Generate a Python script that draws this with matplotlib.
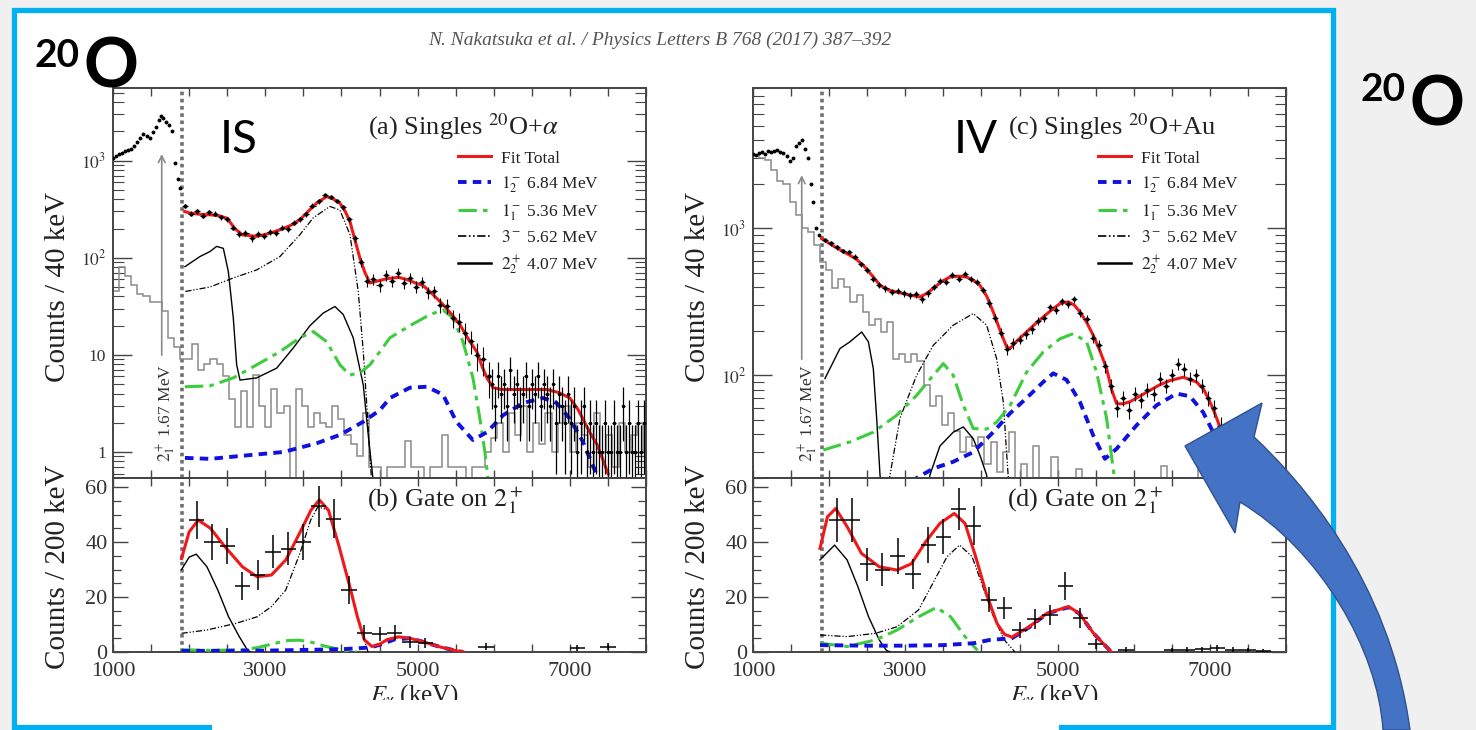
#!/usr/bin/env python3
"""
20O gamma spectra slide: singles on alpha / Au and gated spectra
"""
import matplotlib
matplotlib.use('Agg')
import matplotlib.pyplot as plt
import numpy as np
from matplotlib.lines import Line2D
from matplotlib.patches import Rectangle, PathPatch
from matplotlib.path import Path
from matplotlib.ticker import (FixedLocator, FixedFormatter, MultipleLocator,
                               LogLocator, NullFormatter)

W, H = 1476, 730

# ---------------- panel (a): singles 20O + alpha (counts / 40 keV)
a_pre_e = [1000, 1040, 1080, 1120, 1160, 1200, 1240, 1280, 1320, 1360, 1400, 1440,
           1480, 1520, 1560, 1600, 1630, 1660, 1700, 1730, 1770, 1810, 1850, 1880]
a_pre_y = [1070, 1110, 1160, 1210, 1250, 1290, 1330, 1420, 1540, 1700, 1860, 1800,
           1700, 1950, 2200, 2600, 2880, 2760, 2500, 2350, 2000, 950, 650, 520]
a_pts_y = [340, 285, 300, 270, 295, 285, 260, 250, 205, 175, 180, 160, 175, 168, 185,
           180, 205, 200, 230, 250, 280, 345, 380, 440, 420, 385, 330, 250, 160, 90,
           58, 60, 52, 66, 58, 70, 55, 62, 50, 56, 44, 45, 33, 32, 24, 22, 17, 14,
           10, 9, 6]
a_pts_err = [18, 17, 17, 16, 17, 17, 16, 16, 14, 13, 13, 13, 13, 13, 14, 13, 14, 14,
             15, 16, 17, 19, 19, 21, 20, 20, 18, 16, 13, 9.5, 7.6, 7.7, 7.2, 8.1,
             7.6, 8.4, 7.4, 7.9, 7.1, 7.5, 6.6, 6.7, 5.7, 5.7, 4.9, 4.7, 4.1, 3.7,
             3.2, 3, 2.4]
a_tail_y = [5, 3, 6, 4, 5, 3, 7, 4, 5, 3, 4, 6, 3, 5, 4, 6, 3, 5, 4, 3, 5, 2, 4, 3, 2,
            4, 2, 3, 1, 2, 3, 1, 2, 1, 2, 1, 1, 2, 1, 1, 2, 1, 1, 3, 1, 2, 1, 1, 2, 1, 2]
a_tail_err = [2.2, 1.7, 2.4, 2, 2.2, 1.7, 2.6, 2, 2.2, 1.7, 2, 2.4, 1.7, 2.2, 2, 2.4,
              1.7, 2.2, 2, 1.7, 2.2, 1.4, 2, 1.7, 1.4, 2, 1.4, 1.7, 0.9, 1.4, 1.7, 0.9,
              1.4, 0.9, 1.4, 0.9, 0.9, 1.4, 0.9, 0.9, 1.4, 0.9, 0.9, 1.7, 0.9, 1.4, 0.9,
              0.9, 1.4, 0.9, 1.4]
a_fit_e = [1940, 2000, 2150, 2280, 2400, 2500, 2600, 2700, 2887, 3050, 3193, 3330,
           3455, 3580, 3674, 3805, 3900, 3980, 4050, 4112, 4180, 4243, 4310, 4374,
           4450, 4600, 4750, 4850, 5000, 5071, 5200, 5334, 5450, 5557, 5680, 5780,
           5850, 5911, 5990, 6100, 6400, 6700, 6850, 7000, 7100, 7171, 7260, 7355,
           7430, 7500]
a_fit_y = [300, 290, 280, 277, 270, 255, 200, 172, 166, 178, 194, 215, 246, 310, 365,
           427, 400, 365, 300, 236, 150, 99, 70, 55, 57, 61, 63, 60, 54, 52, 42, 33,
           26, 20.4, 14, 10.7, 7.5, 5.8, 4.6, 4.4, 4.4, 4.4, 4.1, 3.6, 2.8, 2.2, 1.6,
           1.2, 0.85, 0.6]
a_m1b_e = [1945, 2274, 2799, 3237, 3674, 3980, 4287, 4505, 4637, 4900, 5120, 5334,
           5509, 5727, 5911, 6125, 6387, 6650, 6825, 7000, 7171, 7355, 7450]
a_m1b_y = [0.87, 0.85, 0.93, 1.0, 1.23, 1.5, 2.05, 2.7, 3.6, 4.6, 4.7, 3.9, 2.05,
           1.33, 1.6, 2.4, 3.2, 3.6, 3.2, 2.2, 1.28, 0.58, 0.4]
a_m1a_e = [1945, 2274, 2580, 2887, 3193, 3455, 3630, 3805, 3980, 4112, 4250, 4374,
           4505, 4637, 4900, 5162, 5334, 5465, 5596, 5727, 5819, 5884, 5924, 5960]
a_m1a_y = [4.7, 4.8, 5.8, 7.9, 10.8, 15, 17.4, 13.7, 7.9, 6.2, 6.6, 7.9, 10.8, 15,
           20, 26, 29, 24, 13.7, 5.8, 2.2, 1.0, 0.54, 0.3]
a_m3_e = [1950, 2274, 2580, 2887, 3193, 3455, 3630, 3849, 3980, 4112, 4221, 4287,
          4330, 4396]
a_m3_y = [45, 50, 62, 75, 103, 173, 258, 338, 310, 173, 45, 10.8, 3.3, 0.5]
a_m2_e = [1945, 2142, 2274, 2361, 2449, 2515, 2580, 2624, 2668, 2887, 3149, 3368,
          3587, 3762, 3915, 4024, 4155, 4287, 4352, 4418]
a_m2_y = [81, 103, 116, 131, 125, 72, 24, 7.9, 5.5, 5.8, 7.3, 11.8, 20, 27, 31.5, 26,
          15, 4.9, 1.5, 0.5]
a_bg = [45, 80, 65, 52, 42, 40, 35, 35, 28, 15, 12, 9, 9,
        13, 7, 8, 9, 8, 6, 3.5, 1.8, 4.2, 1.8, 6.2, 3,
        1.8, 4.5, 2.5, 3, 0.4, 4.5, 3, 1.8, 2.5, 2, 1.8, 3, 2.2,
        1.5, 1.2, 0.9, 2.5, 0.7, 0.7, 0.4, 0.7, 0.7, 0.7, 1.3, 0.7,
        0.7, 0.4, 0.7, 0.7, 1.5, 0.7, 0.7, 0.7, 0.4, 0.7, 0.7, 1.0, 1.4,
        2, 1, 2.5, 1.5, 3, 1, 2, 1.2, 2.5, 1, 2, 3,
        1, 2, 1.5, 0.7, 2.5, 1, 1.5, 0.7, 2, 1, 1.5, 2, 1]

# ---------------- panel (b): gate on 2+1, 20O + alpha (counts / 200 keV)
b_pts_e = [2100, 2300, 2500, 2700, 2900, 3100, 3300, 3500, 3700, 3900, 4100, 4300,
           4500, 4700, 4900, 5100, 5900, 7100, 7500]
b_pts_y = [48, 40, 38.5, 24, 28, 36.5, 37.5, 40, 53, 48.5, 22.5, 7, 6.5, 7, 3.5, 3.3,
           2, 1.5, 2]
b_pts_err = [7, 6.5, 6.5, 5, 5.5, 6, 6, 6.5, 7.5, 7, 5, 2.7, 2.6, 2.7, 1.9, 1.8, 1.4,
             1.2, 1.4]
b_fit_e = [1900, 2000, 2120, 2280, 2470, 2700, 2890, 3080, 3270, 3450, 3600, 3710,
           3830, 3970, 4110, 4210, 4300, 4400, 4500, 4600, 4750, 4900, 5100, 5300,
           5500, 5600]
b_fit_y = [34, 43.7, 48, 45, 38.3, 31, 27.4, 28, 33.5, 43.2, 51.6, 55.3, 51.6, 38.3,
           23.8, 12.8, 4.5, 2.0, 2.8, 4.5, 5.5, 5.0, 3.5, 1.8, 0.5, 0]
b_m2_e = [1900, 2000, 2093, 2234, 2377, 2518, 2658, 2752, 2800]
b_m2_y = [30, 34.5, 35.6, 31, 22.5, 12.8, 5.6, 1.3, 0]
b_m3_e = [1900, 2234, 2611, 2892, 3080, 3268, 3455, 3596, 3690, 3831, 3971, 4112,
          4206, 4300, 4350]
b_m3_y = [6.8, 8, 10.4, 12.8, 16.5, 22.5, 35.9, 48, 52.8, 51.6, 38.3, 23.8, 12.8,
          4.4, 0]
b_m1a_e = [1900, 2300, 2700, 2900, 3100, 3300, 3450, 3600, 3800, 4000, 4200]
b_m1a_y = [0.8, 0.6, 0.8, 1.6, 3, 4.2, 4.3, 3.6, 2, 0.8, 0]
b_m1b_e = [1900, 3000, 4000, 4300, 4400, 4500, 4700, 4900, 5100, 5300, 5500, 5600]
b_m1b_y = [0.4, 0.5, 1.0, 1.5, 1.8, 2.6, 4.6, 5.0, 3.5, 1.8, 0.5, 0]

# ---------------- panel (c): singles 20O + Au (counts / 40 keV)
c_pre_e = [1000, 1040, 1080, 1120, 1160, 1200, 1240, 1280, 1320, 1360, 1400, 1440,
           1480, 1520, 1560, 1600, 1640, 1680, 1720, 1760, 1790, 1830, 1870]
c_pre_y = [3200, 3150, 3250, 3300, 3200, 3350, 3300, 3350, 3400, 3300, 3250, 3100,
           2850, 3000, 3600, 3800, 3970, 3450, 3000, 2000, 1500, 1000, 900]
c_pts_y = [830, 790, 740, 700, 690, 640, 570, 520, 450, 410,
           390, 370, 375, 360, 350, 355, 330, 360, 400, 440,
           430, 480, 450, 490, 455, 430, 380, 310, 245, 195,
           150, 165, 175, 190, 205, 235, 245, 290, 280, 320,
           305, 330, 265, 240, 180, 160, 115, 85, 60, 70,
           58, 75, 68, 80, 75, 95, 85, 100, 120, 110,
           95, 100, 85, 70, 60, 45]
c_pts_err = [29, 28, 27, 26, 26, 25, 24, 23, 21, 20,
             20, 19, 19, 19, 19, 19, 18, 19, 20, 21,
             21, 22, 21, 22, 21, 21, 19, 18, 16, 14,
             12, 13, 13, 14, 14, 15, 16, 17, 17, 18,
             17, 18, 16, 15, 13, 13, 11, 9, 8, 8.4,
             7.6, 8.7, 8.2, 8.9, 8.7, 9.7, 9.2, 10, 11, 10.5,
             9.7, 10, 9.2, 8.4, 7.7, 6.7]
c_fit_e = [1902, 2050, 2230, 2350, 2449, 2560, 2668, 2780, 2887, 3050, 3193, 3280,
           3368, 3480, 3587, 3700, 3806, 3900, 3980, 4070, 4155, 4240, 4330, 4374,
           4470, 4593, 4700, 4812, 4920, 5031, 5140, 5220, 5293, 5380, 5468, 5560,
           5644, 5710, 5775, 5860, 5950, 6080, 6213, 6340, 6475, 6650, 6825, 6920,
           7000, 7060, 7109, 7180, 7250, 7300]
c_fit_y = [851, 760, 674, 620, 560, 480, 409, 380, 368, 352, 341, 360, 390, 435, 466,
           472, 466, 440, 409, 345, 270, 205, 156, 152, 172, 197, 222, 249, 278, 307,
           316, 300, 270, 230, 187, 145, 111, 80, 64, 64, 66, 72, 79, 86, 92, 97, 90,
           80, 66, 56, 48, 36, 26, 20]
c_m1b_e = [3000, 3149, 3368, 3630, 3893, 4155, 4374, 4593, 4812, 4943, 5118, 5293,
           5468, 5622, 5775, 6038, 6300, 6563, 6738, 6912, 7043, 7131, 7250]
c_m1b_y = [15, 20, 23.2, 25.8, 30, 41, 55, 70, 90, 103, 93, 66, 39, 27, 31.6, 45.7,
           62.5, 75, 72, 56, 41, 30, 18]
c_m1a_e = [1923, 2274, 2580, 2887, 3149, 3368, 3499, 3630, 3762, 3893, 4068, 4200,
           4374, 4506, 4593, 4812, 5031, 5206, 5381, 5512, 5644, 5731, 5800]
c_m1a_y = [31, 35.2, 41, 53.4, 73, 100, 120, 100, 62.5, 43.4, 43, 48, 62, 85, 105,
           144, 177, 192, 169, 105, 51, 23, 12]
c_m3_e = [2750, 2930, 3149, 3368, 3630, 3893, 4068, 4199, 4287, 4330, 4370]
c_m3_y = [15, 51, 100, 160, 219, 263, 219, 130, 66, 30, 15]
c_m2_e = [1945, 2142, 2274, 2427, 2515, 2580, 2624, 2668, 2750, 3200, 3324, 3455,
          3630, 3762, 3893, 3980, 4068, 4150]
c_m2_y = [95, 152, 169, 197, 169, 111, 51, 21, 8, 8, 21, 33, 41, 44.5, 37, 28.6, 21,
          10]
c_bg = [3100, 3000, 2900, 2500, 2100, 2000, 1500, 1230, 1000, 950, 770, 590, 520,
        390, 450, 400, 316, 350, 270, 219, 240, 197, 230, 130, 140,
        123, 140, 125, 86, 62, 72, 46, 55, 42, 30, 38, 33, 38,
        25, 35, 22, 30, 41, 15, 25, 15, 33, 15, 15, 28,
        15, 15, 15, 23, 15, 15, 15, 15, 15, 15, 15, 15, 15,
        15, 15, 15, 15, 24, 15, 15, 15, 15, 15, 24, 15,
        15, 15, 15, 15, 15, 15, 15, 15, 15, 15, 15, 15, 15]

# ---------------- panel (d): gate on 2+1, 20O + Au (counts / 200 keV)
d_pts_e = [2100, 2300, 2500, 2700, 2900, 3100, 3300, 3500, 3700, 3900, 4100, 4300,
           4500, 4700, 4900, 5100, 5300, 5500, 5900, 6500, 6700, 6900, 7100, 7300,
           7500, 7700]
d_pts_y = [48, 48, 32, 30, 35, 28.5, 39, 42, 52, 46, 19, 16, 8, 12, 13.5, 24, 12.5,
           3, 0.8, 0.6, 0.8, 1.0, 1.4, 0.8, 0.6, 0.5]
d_pts_err = [8, 8, 6, 6, 6.5, 5.5, 6.5, 6.5, 7.5, 7, 4.5, 4, 3, 3.5, 3.7, 5, 3.6, 1.8,
             0.9, 0.8, 0.9, 1, 1.2, 0.9, 0.8, 0.7]
d_fit_e = [1880, 1978, 2086, 2236, 2424, 2658, 2892, 3080, 3268, 3455, 3643, 3784,
           3924, 4064, 4205, 4300, 4400, 4628, 4861, 5144, 5284, 5472, 5706]
d_fit_y = [37.7, 49.2, 52.2, 45.6, 35.9, 31, 29.8, 32.1, 40.1, 46.8, 50.4, 46.8, 34.7,
           21.3, 10.4, 6.5, 5.4, 9.2, 14.1, 16.5, 14.1, 6.8, 0]
d_m2_e = [1880, 2071, 2236, 2377, 2518, 2658, 2752, 2800]
d_m2_y = [33.5, 38.9, 33.5, 23.8, 12.8, 4.4, 0.6, 0]
d_m3_e = [1880, 2236, 2611, 2892, 3174, 3362, 3549, 3713, 3877, 4018, 4159, 4300, 4440]
d_m3_y = [6.2, 5.6, 6.8, 9.2, 15.3, 25, 34.7, 38.9, 34.7, 23.8, 12.8, 4.4, 0]
d_m1a_e = [1880, 2236, 2611, 2892, 3174, 3408, 3596, 3784, 3948]
d_m1a_y = [3.2, 2, 4.4, 8, 12.8, 16.2, 12.8, 5.6, 0.6]
d_m1b_e = [1880, 2500, 3000, 3500, 3900, 4112, 4400, 4628, 4861, 5144, 5284, 5472,
           5706]
d_m1b_y = [2.5, 2.3, 2.3, 2.5, 3.2, 4.4, 5.0, 9.0, 14, 16.3, 14, 6.8, 0]

legend_labels = ['Fit Total', r'$1^-_2$ 6.84 MeV', r'$1^-_1$ 5.36 MeV',
                 r'$3^-$ 5.62 MeV', r'$2^+_2$ 4.07 MeV']
threshold_e = 1910
line_e = 1640

RED = '#f01818'
BLUE = '#1010e0'
GREEN = '#3ccc3c'
GREY = '#8a8a8a'
AXC = '#444444'
SERIF = 'Liberation Serif'

plt.rcParams['font.family'] = SERIF
plt.rcParams['mathtext.fontset'] = 'stix'


def fx(px):
    return px / W


def fy(py):
    return 1 - py / H


def frame(ax):
    for s in ax.spines.values():
        s.set_color(AXC)
        s.set_linewidth(1.4)
    ax.set_xlim(1000, 8000)
    ax.xaxis.set_major_locator(FixedLocator([1000, 3000, 5000, 7000]))
    ax.xaxis.set_minor_locator(MultipleLocator(500))
    ax.tick_params(which='both', direction='in', top=True, right=True,
                   color=AXC, labelcolor='#333333')
    ax.tick_params(axis='x', which='both', length=6, width=1, labelsize=16, pad=7)
    ax.axvline(threshold_e, color='#707070', lw=2.6, ls=(0, (1, 1)), zorder=2)


def components(ax, fit, m1b, m1a, m3, m2):
    ax.plot(*m2, color='k', lw=1.0, zorder=3)
    ax.plot(*m3, color='k', lw=0.9, ls=(0, (5, 1.5, 1, 1.5, 1, 1.5)), zorder=3)
    ax.plot(*m1a, color=GREEN, lw=2.2, ls=(0, (6, 2, 1.5, 2)), zorder=3)
    ax.plot(*m1b, color=BLUE, lw=2.8, ls=(0, (2.2, 1.6)), zorder=3)
    ax.plot(*fit, color=RED, lw=2.2, zorder=4)


def top_panel(ax, ylim, yt, ylab, pre, main_e, main_y, main_err, tail, bg,
              fit, m1b, m1a, m3, m2, title, arrow):
    frame(ax)
    ax.set_yscale('log')
    ax.set_ylim(*ylim)
    ax.yaxis.set_major_locator(FixedLocator(yt))
    ax.yaxis.set_major_formatter(FixedFormatter(ylab))
    ax.yaxis.set_minor_locator(LogLocator(base=10, subs=np.arange(2, 10), numticks=20))
    ax.yaxis.set_minor_formatter(NullFormatter())
    ax.tick_params(axis='y', which='major', length=14, width=1, labelsize=12.5, pad=5)
    ax.tick_params(axis='y', which='minor', length=8, width=0.8)
    ax.tick_params(axis='x', labelbottom=False)

    edges = np.arange(1000, 8041, 80)
    ax.stairs(bg, edges, baseline=None, color=GREY, lw=1.1, zorder=2)
    components(ax, fit, m1b, m1a, m3, m2)
    ax.plot(*pre, 'o', color='k', ms=1.8, zorder=5)
    ax.errorbar(main_e, main_y, yerr=main_err, xerr=40, fmt='o', ms=2,
                color='k', elinewidth=0.8, capsize=0, zorder=5)
    if tail is not None:
        ax.errorbar(tail[0], tail[1], yerr=tail[2], xerr=20, fmt='o', ms=1.5,
                    color='k', elinewidth=0.9, capsize=0, zorder=5)

    ax.annotate('', xy=(line_e, arrow[1]), xytext=(line_e, arrow[0]),
                arrowprops=dict(arrowstyle='->', color='#8a8a8a', lw=1.2,
                                mutation_scale=12), zorder=3)
    ax.text(0.478, 0.9, title, transform=ax.transAxes, fontsize=19,
            ha='left', va='center', color='#222222')

    handles = [Line2D([], [], color=RED, lw=2.2),
               Line2D([], [], color=BLUE, lw=2.8, ls=(0, (2.2, 1.6))),
               Line2D([], [], color=GREEN, lw=2.2, ls=(0, (6, 2, 1.5, 2))),
               Line2D([], [], color='k', lw=1.2, ls=(0, (5, 1.5, 1, 1.5, 1, 1.5))),
               Line2D([], [], color='k', lw=1.8)]
    leg = ax.legend(handles, legend_labels, loc='upper left',
                    bbox_to_anchor=(0.648, 0.84), frameon=False, fontsize=12.5,
                    handlelength=1.9, handletextpad=0.55, labelspacing=0.42,
                    borderpad=0, borderaxespad=0)
    for t in leg.get_texts():
        t.set_color('#222222')
    ax.set_ylabel('Counts / 40 keV', fontsize=21, color='#222222')
    ax.yaxis.set_label_coords(-0.078, 0.49)


def bottom_panel(ax, pts_e, pts_y, pts_err, fit, m1b, m1a, m3, m2, title):
    frame(ax)
    ax.set_ylim(0, 63.3)
    ax.yaxis.set_major_locator(FixedLocator([0, 20, 40, 60]))
    ax.yaxis.set_minor_locator(MultipleLocator(5))
    ax.tick_params(axis='y', which='major', length=11, width=1, labelsize=16, pad=4)
    ax.tick_params(axis='y', which='minor', length=6, width=0.9)
    components(ax, fit, m1b, m1a, m3, m2)
    ax.errorbar(pts_e, pts_y, yerr=pts_err, xerr=100, fmt='none', ecolor='k',
                elinewidth=1.1, capsize=0, zorder=5)
    ax.text(0.476, 0.874, title, transform=ax.transAxes, fontsize=19,
            ha='left', va='center', color='#222222')
    ax.set_ylabel('Counts / 200 keV', fontsize=21, color='#222222')
    ax.yaxis.set_label_coords(-0.078, 0.49)
    ax.set_xlabel(r'$E_\gamma$ (keV)', fontsize=18, color='#222222')
    ax.xaxis.set_label_coords(0.565, -0.175)


def main():
    fig = plt.figure(figsize=(W / 100, H / 100), dpi=100)
    fig.patch.set_facecolor('#f0f0f0')

    # slide box: white picture with a light blue outline
    fig.add_artist(Rectangle((fx(14), fy(727)), fx(1332.5) - fx(14), fy(10) - fy(727),
                             transform=fig.transFigure, facecolor='white',
                             edgecolor='#00b0f0', lw=3.8, zorder=-1))

    ax_a = fig.add_axes([fx(113), fy(478), fx(646) - fx(113), fy(88) - fy(478)])
    ax_b = fig.add_axes([fx(113), fy(652), fx(646) - fx(113), fy(478) - fy(652)])
    ax_c = fig.add_axes([fx(753), fy(478), fx(1286) - fx(753), fy(88) - fy(478)])
    ax_d = fig.add_axes([fx(753), fy(652), fx(1286) - fx(753), fy(478) - fy(652)])
    for ax in (ax_a, ax_b, ax_c, ax_d):
        ax.set_facecolor('none')

    a_main_e = np.arange(1940, 5941, 80)
    a_tail_e = np.arange(5980, 7981, 40)
    c_main_e = np.arange(1940, 7141, 80)

    top_panel(ax_a, (0.54, 5600), [1, 10, 100, 1000],
              ['1', '10', r'$10^2$', r'$10^3$'], (a_pre_e, a_pre_y),
              a_main_e, a_pts_y, a_pts_err, (a_tail_e, a_tail_y, a_tail_err), a_bg,
              (a_fit_e, a_fit_y), (a_m1b_e, a_m1b_y), (a_m1a_e, a_m1a_y),
              (a_m3_e, a_m3_y), (a_m2_e, a_m2_y),
              r'(a) Singles $^{20}$O+$\alpha$', (9.3, 1250))
    top_panel(ax_c, (20, 9000), [100, 1000], [r'$10^2$', r'$10^3$'],
              (c_pre_e, c_pre_y), c_main_e, c_pts_y, c_pts_err, None, c_bg,
              (c_fit_e, c_fit_y), (c_m1b_e, c_m1b_y), (c_m1a_e, c_m1a_y),
              (c_m3_e, c_m3_y), (c_m2_e, c_m2_y),
              r'(c) Singles $^{20}$O+Au', (123, 2400))
    bottom_panel(ax_b, b_pts_e, b_pts_y, b_pts_err, (b_fit_e, b_fit_y),
                 (b_m1b_e, b_m1b_y), (b_m1a_e, b_m1a_y), (b_m3_e, b_m3_y),
                 (b_m2_e, b_m2_y), r'(b) Gate on $2^+_1$')
    bottom_panel(ax_d, d_pts_e, d_pts_y, d_pts_err, (d_fit_e, d_fit_y),
                 (d_m1b_e, d_m1b_y), (d_m1a_e, d_m1a_y), (d_m3_e, d_m3_y),
                 (d_m2_e, d_m2_y), r'(d) Gate on $2^+_1$')

    # rotated marker text for the 1.67 MeV line
    for px in (166, 808):
        fig.text(fx(px), fy(413), r'$2^+_1$ 1.67 MeV', rotation=90, fontsize=12.5,
                 ha='center', va='center', color='#333333')

    fig.text(fx(660), fy(40), 'N. Nakatsuka et al. / Physics Letters B 768 (2017) 387\u2013392',
             style='italic', color='#555555', fontsize=14, ha='center', va='center')

    # picture is cropped at the bottom
    fig.add_artist(Rectangle((fx(17), fy(723)), fx(1330) - fx(17), fy(700) - fy(723),
                             transform=fig.transFigure, facecolor='white',
                             edgecolor='none', zorder=10))
    fig.add_artist(Rectangle((fx(212), 0), fx(1059) - fx(212), fy(700),
                             transform=fig.transFigure, facecolor='white',
                             edgecolor='none', zorder=10))

    # slide annotations
    for x20, xo, yb20, ybo in ((34, 84, 67, 88), (1361, 1409, 101, 126)):
        fig.text(fx(x20), fy(yb20), '20', fontsize=28, weight='bold', family='Lato',
                 ha='left', va='baseline', zorder=12)
        fig.text(fx(xo), fy(ybo), 'O', fontsize=49, weight='bold', family='Lato',
                 ha='left', va='baseline', zorder=12)
    fig.text(fx(220), fy(153), 'IS', fontsize=33, family='Lato', ha='left',
             va='baseline', zorder=12)
    fig.text(fx(954), fy(153), 'IV', fontsize=33, family='Lato', ha='left',
             va='baseline', zorder=12)

    # big curved block arrow
    pts = [(1185, 446), (1262, 403), (1254, 437),
           (1300, 480), (1390, 580), (1410, 730),
           (1383, 730),
           (1378, 650), (1320, 550), (1240, 502),
           (1235, 533), (1185, 446)]
    codes = [Path.MOVETO, Path.LINETO, Path.LINETO,
             Path.CURVE4, Path.CURVE4, Path.CURVE4,
             Path.LINETO,
             Path.CURVE4, Path.CURVE4, Path.CURVE4,
             Path.LINETO, Path.CLOSEPOLY]
    path = Path([(fx(x), fy(y)) for x, y in pts], codes)
    fig.add_artist(PathPatch(path, transform=fig.transFigure, facecolor='#4472c4',
                             edgecolor='#2f528f', lw=1, zorder=20))

    fig.savefig('out.png', dpi=100)


if __name__ == "__main__":
    main()
